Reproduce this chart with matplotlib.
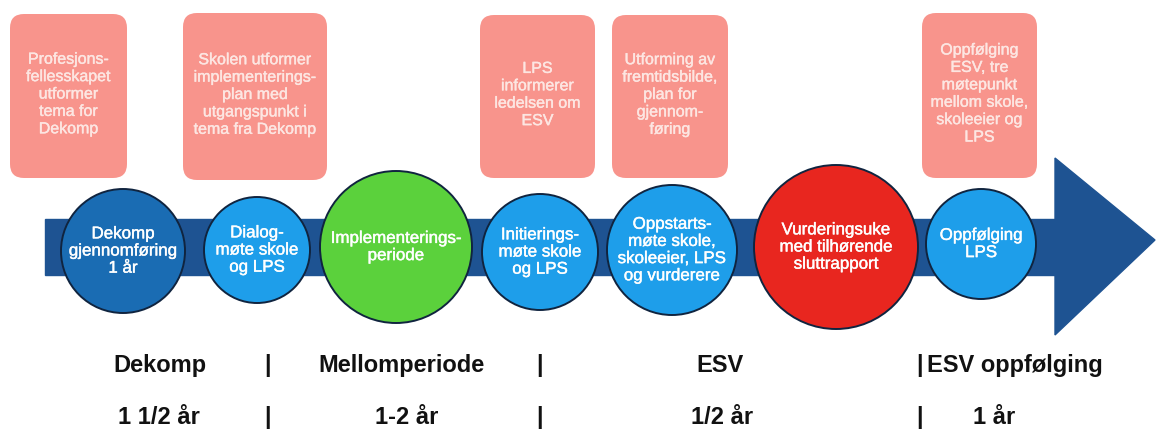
import matplotlib
matplotlib.use("Agg")
import matplotlib.pyplot as plt
import matplotlib.patheffects as pe
from matplotlib.patches import Circle, FancyBboxPatch, Rectangle, Polygon

# Pink note boxes above the timeline
note_texts = [
    "Profesjons-\nfellesskapet\nutformer\ntema for\nDekomp",
    "Skolen utformer\nimplementerings-\nplan med\nutgangspunkt i\ntema fra Dekomp",
    "LPS\ninformerer\nledelsen om\nESV",
    "Utforming av\nfremtidsbilde,\nplan for\ngjennom-\nføring",
    "Oppfølging\nESV, tre\nmøtepunkt\nmellom skole,\nskoleeier og\nLPS",
]
note_boxes = [(10, 14, 117, 164), (183, 13, 144, 167), (480, 15, 115, 163),
              (612, 15, 116, 163), (922, 13, 115, 165)]  # x, y, w, h (px)

# Circles on the arrow
step_texts = [
    "Dekomp\ngjennomføring\n1 år",
    "Dialog-\nmøte skole\nog LPS",
    "Implementerings-\nperiode",
    "Initierings-\nmøte skole\nog LPS",
    "Oppstarts-\nmøte skole,\nskoleeier, LPS\nog vurderere",
    "Vurderingsuke\nmed tilhørende\nsluttrapport",
    "Oppfølging\nLPS",
]
step_x = [123, 257, 396, 540, 672, 836, 981]
step_y = [251, 250, 247, 252, 250, 247, 244]
step_r = [62, 53, 76, 58, 65, 82, 55]
step_colors = ["#1A6CB3", "#1E9EEA", "#5BD13C", "#1E9EEA", "#1E9EEA", "#E8261F", "#1E9EEA"]

# Bottom phase labels
phase_names = ["Dekomp", "Mellomperiode", "ESV", "ESV oppfølging"]
phase_lengths = ["1 1/2 år", "1-2 år", "1/2 år", "1 år"]
phase_x = [160, 401, 720, 1015]
length_x = [159, 407, 722, 994]
divider_x = [267, 539, 919]

W, H = 1156, 430
fig = plt.figure(figsize=(W / 100, H / 100), dpi=100)
ax = fig.add_axes([0, 0, 1, 1])
ax.set_xlim(0, W)
ax.set_ylim(H, 0)
ax.axis("off")

band_color = "#1E5392"
ax.add_patch(Rectangle((45, 219), 1020, 56, color=band_color, zorder=1))
ax.add_patch(Polygon([(1055, 158), (1155, 240), (1055, 335)], closed=True,
                     color=band_color, zorder=1))

for (x, y, w, h), txt in zip(note_boxes, note_texts):
    ax.add_patch(FancyBboxPatch((x, y), w, h, boxstyle="round,pad=0,rounding_size=14",
                                facecolor="#F8948C", edgecolor="none", zorder=2))
    ax.text(x + w / 2, y + h / 2 - 2, txt, ha="center", va="center", color="#FDE6E2",
            fontsize=11.5, family="Liberation Sans", linespacing=1.2, zorder=3,
            path_effects=[pe.withStroke(linewidth=0.3, foreground="#FDE6E2")])

for x, y, r, c, txt in zip(step_x, step_y, step_r, step_colors, step_texts):
    ax.add_patch(Circle((x, y), r, facecolor=c, edgecolor="#10243F", lw=1.4, zorder=4))
    ax.text(x, y, txt, ha="center", va="center", color="white", fontsize=12.2,
            family="Liberation Sans", linespacing=1.18, zorder=5,
            path_effects=[pe.withStroke(linewidth=0.3, foreground="white")])

bold = dict(ha="center", va="baseline", color="#111111", fontsize=17, fontweight="bold",
            family="Liberation Sans")
for x, name in zip(phase_x, phase_names):
    ax.text(x, 372, name, **bold)
for x, length in zip(length_x, phase_lengths):
    ax.text(x, 424, length, **bold)
for x in divider_x:
    ax.text(x, 372, "|", **bold)
    ax.text(x, 424, "|", **bold)

fig.savefig("out.png", dpi=100, facecolor="white")
